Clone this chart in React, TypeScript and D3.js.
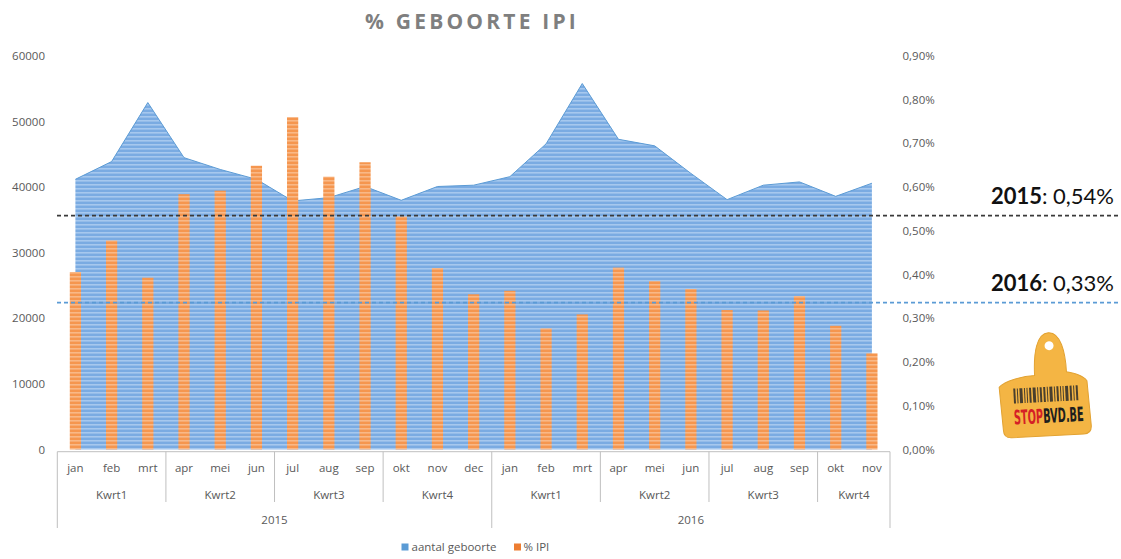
import React from "react";
import * as d3 from "d3";

// --- data ---
const months = [
  "jan", "feb", "mrt", "apr", "mei", "jun", "jul", "aug", "sep", "okt", "nov", "dec",
  "jan", "feb", "mrt", "apr", "mei", "jun", "jul", "aug", "sep", "okt", "nov",
];
const quarters = ["Kwrt1", "Kwrt2", "Kwrt3", "Kwrt4", "Kwrt1", "Kwrt2", "Kwrt3", "Kwrt4"];
const quarterSizes = [3, 3, 3, 3, 3, 3, 3, 2];
const years = ["2015", "2016"];
const yearSizes = [12, 11];

const births = [
  41200, 43900, 52900, 44500, 42700, 41200, 37900, 38400, 40100, 38000, 40100, 40300,
  41600, 46600, 55800, 47300, 46300, 42100, 38100, 40300, 40800, 38600, 40600,
];
const ipi = [
  0.406, 0.478, 0.393, 0.584, 0.592, 0.649, 0.76, 0.624, 0.657, 0.533, 0.415, 0.355,
  0.363, 0.277, 0.309, 0.416, 0.385, 0.367, 0.319, 0.318, 0.351, 0.283, 0.22,
];

const leftTicks = [0, 10000, 20000, 30000, 40000, 50000, 60000];
const rightTicks = [0, 0.1, 0.2, 0.3, 0.4, 0.5, 0.6, 0.7, 0.8, 0.9];

const averages = [
  { year: "2015", value: 0.535, label: "0,54%", color: "#3a3a3a" },
  { year: "2016", value: 0.336, label: "0,33%", color: "#5b9bd5" },
];

// decorative barcode on the logo tag
const barcode = [2, 1, 3, 1, 1, 2, 3, 1, 2, 2, 1, 3, 1, 2, 1, 1, 3, 2, 1, 2];

const W = 1121;
const H = 559;
const font = "'Open Sans', sans-serif";
const gray = "#595959";

export default function App() {
  const idx = months.map((_, i) => i);
  const x = d3.scaleBand<number>().domain(idx).range([57.3, 890]);
  const bw = x.bandwidth();
  const cx = (i: number) => (x(i) as number) + bw / 2;

  const yLeft = d3.scaleLinear().domain([0, 60000]).range([449.5, 56]);
  const yRight = d3.scaleLinear().domain([0, 0.9]).range([449.5, 56]);

  const area = d3
    .area<number>()
    .x((_, i) => cx(i))
    .y0(yLeft(0))
    .y1((d) => yLeft(d));
  const line = d3
    .line<number>()
    .x((_, i) => cx(i))
    .y((d) => yLeft(d));

  const axisY = 451.7;
  const barW = bw * 0.31;

  // quarter / year boundaries
  let acc = 0;
  const qGroups = quarterSizes.map((n, k) => {
    const start = acc;
    acc += n;
    return { label: quarters[k], start, end: acc };
  });
  acc = 0;
  const yGroups = yearSizes.map((n, k) => {
    const start = acc;
    acc += n;
    return { label: years[k], start, end: acc };
  });
  const edge = (i: number) => (i >= months.length ? x.range()[1] : (x(i) as number));
  const yearEdges = new Set<number>([0, ...yGroups.map((g) => g.end)]);

  const pct = (v: number) => d3.format(".2f")(v).replace(".", ",") + "%";

  // barcode layout scaled into the tag
  let bx = 0;
  const raw = barcode.map((w) => {
    const r = { x: bx, w };
    bx += w + 1.6;
    return r;
  });
  const bScale = d3.scaleLinear().domain([0, bx]).range([14, 80]);
  const k = (80 - 14) / bx;

  return (
    <svg
      width={W}
      height={H}
      style={{ position: "absolute", left: 0, top: 0, background: "#fff" }}
      fontFamily={font}
    >
      <defs>
        <pattern id="blueStripe" width="8" height="4" patternUnits="userSpaceOnUse">
          <rect width="8" height="4" fill="#7aabe2" />
          <rect width="8" height="1.6" fill="#a6c8ee" />
        </pattern>
        <pattern id="orangeStripe" width="8" height="4" patternUnits="userSpaceOnUse">
          <rect width="8" height="4" fill="#f5964f" />
          <rect width="8" height="1.6" fill="#f9b886" />
        </pattern>
      </defs>

      {/* title */}
      <text
        x={472}
        y={29}
        textAnchor="middle"
        fontSize={21}
        fontWeight="bold"
        letterSpacing={3.2}
        fill="#7f7f7f"
      >
        % GEBOORTE IPI
      </text>

      {/* left axis */}
      {leftTicks.map((t) => (
        <text key={t} x={45} y={yLeft(t) + 4} textAnchor="end" fontSize={11.5} fill={gray}>
          {t}
        </text>
      ))}
      {/* right axis */}
      {rightTicks.map((t) => (
        <text key={t} x={902.5} y={yRight(t) + 4} fontSize={11.5} fill={gray}>
          {pct(t)}
        </text>
      ))}

      {/* births area */}
      <path d={area(births) || ""} fill="url(#blueStripe)" />
      <path d={line(births) || ""} fill="none" stroke="#5b9bd5" strokeWidth={1} />

      {/* % IPI bars */}
      {ipi.map((v, i) => (
        <rect
          key={i}
          x={cx(i) - barW / 2}
          y={yRight(v)}
          width={barW}
          height={yRight(0) - yRight(v)}
          fill="url(#orangeStripe)"
        />
      ))}

      {/* average lines */}
      {averages.map((a) => (
        <g key={a.year}>
          <line
            x1={57}
            x2={W}
            y1={yRight(a.value)}
            y2={yRight(a.value)}
            stroke={a.color}
            strokeWidth={1.6}
            strokeDasharray="4 3"
          />
          <text
            x={1114}
            y={yRight(a.value) - 12}
            textAnchor="end"
            fontSize={22}
            fill="#111"
            fontFamily="Lato, sans-serif"
          >
            <tspan fontWeight="bold">{a.year}</tspan>
            <tspan>: {a.label}</tspan>
          </text>
        </g>
      ))}

      {/* category axis */}
      <line x1={57.3} x2={890} y1={axisY} y2={axisY} stroke="#bfbfbf" />
      {qGroups.map((g, i) => (
        <line
          key={"q" + i}
          x1={edge(g.start)}
          x2={edge(g.start)}
          y1={axisY}
          y2={yearEdges.has(g.start) ? 528 : 502}
          stroke="#bfbfbf"
        />
      ))}
      <line x1={890} x2={890} y1={axisY} y2={528} stroke="#bfbfbf" />
      {months.map((m, i) => (
        <text key={"m" + i} x={cx(i)} y={472} textAnchor="middle" fontSize={11.5} fill={gray}>
          {m}
        </text>
      ))}
      {qGroups.map((g, i) => (
        <text
          key={"ql" + i}
          x={(edge(g.start) + edge(g.end)) / 2}
          y={499}
          textAnchor="middle"
          fontSize={11.5}
          fill={gray}
        >
          {g.label}
        </text>
      ))}
      {yGroups.map((g) => (
        <text
          key={g.label}
          x={(edge(g.start) + edge(g.end)) / 2}
          y={524}
          textAnchor="middle"
          fontSize={11.5}
          fill={gray}
        >
          {g.label}
        </text>
      ))}

      {/* legend */}
      <rect x={401.5} y={543.5} width={7} height={7} fill="#5b9bd5" />
      <text x={411.5} y={551} fontSize={11.5} fill={gray}>
        aantal geboorte
      </text>
      <rect x={514} y={543.5} width={7} height={7} fill="#ed7d31" />
      <text x={523.5} y={551} fontSize={11.5} fill={gray}>
        % IPI
      </text>

      {/* STOPBVD.BE tag */}
      <g transform="translate(999,333) rotate(-3 45 50)">
        <path
          d="M36 42 C36 20 40 0 52 0 C64 0 68 20 68 40 C76 42 84 44 88 50 L90 95 Q90 103 82 103 L10 103 Q2 103 2 95 L0 52 C6 46 24 42 36 42 Z"
          fill="#f4b544"
          stroke="#e2a232"
          strokeWidth={1}
        />
        <circle cx={52} cy={13} r={4.5} fill="#fff" />
        {raw.map((b, i) => (
          <rect
            key={i}
            x={bScale(b.x)}
            y={54}
            width={b.w * k}
            height={15}
            fill="#2a2a2a"
            opacity={0.85}
          />
        ))}
        <text
          x={13}
          y={90}
          fontSize={20}
          fontWeight="bold"
          fontFamily="'Liberation Sans Narrow', 'DejaVu Sans Condensed', sans-serif"
          textLength={70}
          lengthAdjust="spacingAndGlyphs"
        >
          <tspan fill="#d51f26">STOP</tspan>
          <tspan fill="#1e1e1e">BVD.BE</tspan>
        </text>
      </g>
    </svg>
  );
}
